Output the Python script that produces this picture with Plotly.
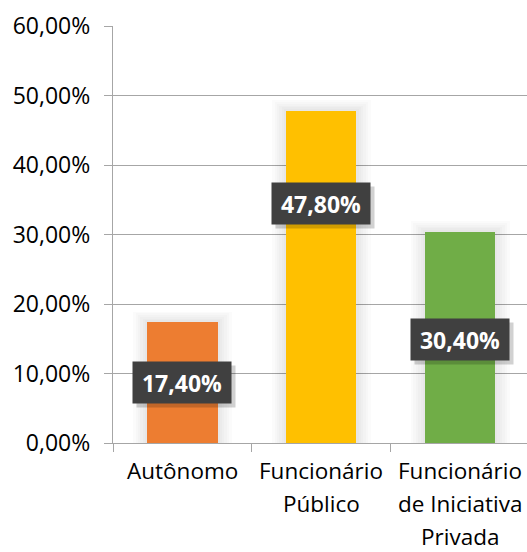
import plotly.graph_objects as go

# Occupation categories and their shares (%)
categories = ["Autônomo", "Funcionário<br>Público", "Funcionário<br>de Iniciativa<br>Privada"]
shares = [17.4, 47.8, 30.4]
bar_colors = ["#ED7D31", "#FFC000", "#70AD47"]
y_ticks = [0, 10, 20, 30, 40, 50, 60]

FONT = "Open Sans"
x_pos = list(range(len(categories)))


def pct(v):
    return f"{v:.2f}".replace(".", ",") + "%"


fig = go.Figure()

# soft glow around each bar
for k in range(1, 7):
    fig.add_trace(go.Bar(
        x=x_pos, y=[v + 0.25 * k for v in shares],
        width=0.5 + 0.035 * k,
        marker=dict(color="rgba(0,0,0,0.016)", line=dict(width=0)),
        hoverinfo="skip", showlegend=False,
    ))

fig.add_trace(go.Bar(
    x=x_pos, y=shares, width=0.505,
    marker=dict(color=bar_colors, line=dict(width=0)),
    showlegend=False,
))

# value labels: dark boxes with a drop shadow
label_frac = [0.5, 0.72, 0.49]
for xi, v, f in zip(x_pos, shares, label_frac):
    fig.add_annotation(
        x=xi, y=v * f, xref="x", yref="y", text=" ",
        showarrow=False, width=88, height=31, borderpad=5,
        bgcolor="rgba(0,0,0,0.18)", xshift=4, yshift=-4,
    )
    fig.add_annotation(
        x=xi, y=v * f, xref="x", yref="y", text=f"<b>{pct(v)}</b>",
        showarrow=False, width=88, height=31, borderpad=5,
        bgcolor="#404040", font=dict(family=FONT, size=23, color="white"),
    )

# category labels, one line at a time for wider line spacing
for xi, cat in zip(x_pos, categories):
    for li, line in enumerate(cat.split("<br>")):
        fig.add_annotation(
            x=xi, y=0, xref="x", yref="paper", text=line,
            showarrow=False, yanchor="middle", yshift=-27 - 33 * li,
            borderpad=0,
            font=dict(family=FONT, size=22.5, color="#000000"),
        )

fig.update_layout(
    width=527, height=552,
    margin=dict(l=113, r=0, t=26, b=109),
    paper_bgcolor="white", plot_bgcolor="white",
    barmode="overlay", bargap=0,
    xaxis=dict(
        type="linear", range=[-0.5, 2.48],
        tickvals=[-0.5, 0.5, 1.5, 2.5], ticktext=["", "", "", ""],
        ticks="outside", ticklen=8, tickcolor="#a6a6a6", tickwidth=1.3,
        showgrid=False, zeroline=False,
        showline=True, linecolor="#a6a6a6", linewidth=1.3,
    ),
    yaxis=dict(
        range=[0, 60], tickvals=y_ticks, ticktext=[pct(t) for t in y_ticks],
        ticks="outside", ticklen=8, tickcolor="#a6a6a6", tickwidth=1.3,
        showgrid=True, gridcolor="#a6a6a6", gridwidth=1.3,
        zeroline=False, showline=True, linecolor="#a6a6a6", linewidth=1.3,
        tickfont=dict(family=FONT, size=23, color="#000000"),
        ticklabelstandoff=9,
    ),
    font=dict(family=FONT),
)

fig.write_html("out.html")
